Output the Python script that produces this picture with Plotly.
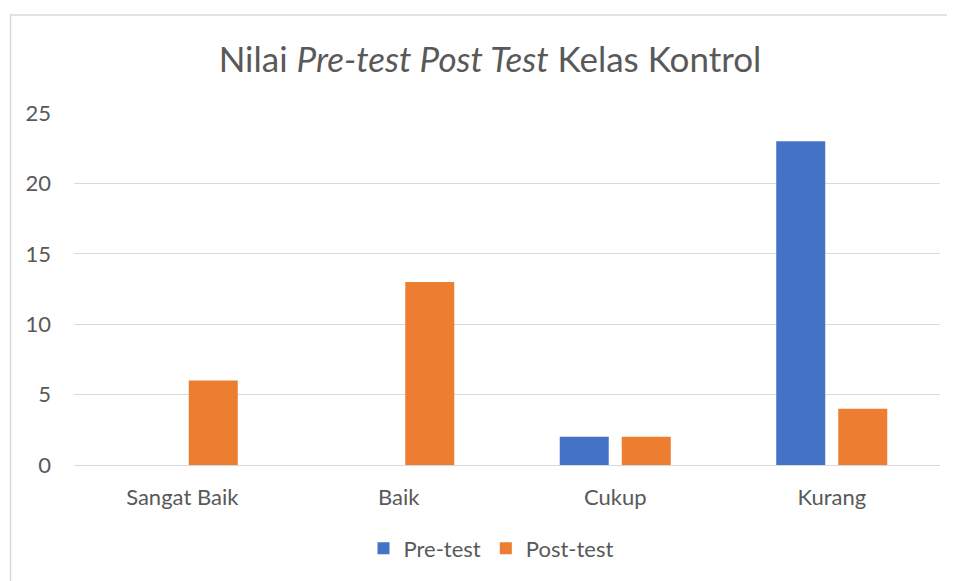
import plotly.graph_objects as go

categories = ["Sangat Baik", "Baik", "Cukup", "Kurang"]
pre_test = [0, 0, 2, 23]
post_test = [6, 13, 2, 4]
y_ticks = [0, 5, 10, 15, 20, 25]

FONT = "Lato, 'Open Sans', sans-serif"
GRAY = "#595959"

# page is shown with an 8px offset; work in reference pixel coords minus offset
O = 8
W, H = 955 - O, 581 - O
L = 74 - O
T = 113 - O
R = W - (940 - O)
B = H - (467 - O)
pw, ph = W - L - R, H - T - B

def px(xr):
    return ((xr - O) - L) / pw

def py(yr):
    return (H - B - (yr - O)) / ph

fig = go.Figure()
fig.add_trace(go.Bar(name="Pre-test", x=categories, y=pre_test,
                     marker=dict(color="#4472C4", line=dict(width=0))))
fig.add_trace(go.Bar(name="Post-test", x=categories, y=post_test,
                     marker=dict(color="#ED7D31", line=dict(width=0))))

fig.update_layout(
    width=W, height=H,
    margin=dict(l=L, r=R, t=T, b=B),
    paper_bgcolor="white", plot_bgcolor="white",
    barmode="group", bargap=0.427, bargroupgap=0.21,
    font=dict(family=FONT, color=GRAY, size=22),
    title=dict(text="Nilai <i>Pre-test Post Test</i> Kelas Kontrol",
               x=(490 - O) / W, xanchor="center", xref="container",
               y=1 - (60 - O) / H, yanchor="middle", yref="container",
               font=dict(family=FONT, size=35, color=GRAY)),
    showlegend=True,
    legend=dict(orientation="h", x=px(491), xanchor="center",
                y=py(551), yanchor="middle",
                font=dict(size=22, color=GRAY), itemwidth=30),
    xaxis=dict(showgrid=False, showline=False, ticks="",
               tickfont=dict(size=22, color=GRAY), ticklabelstandoff=17),
    yaxis=dict(range=[0, 25], tickvals=y_ticks, showgrid=True, gridcolor="#d9d9d9",
               gridwidth=1, zeroline=True, zerolinecolor="#d9d9d9", zerolinewidth=1,
               showline=False, ticks="", tickfont=dict(size=22, color=GRAY),
               ticklabelstandoff=22),
    shapes=[dict(type="rect", xref="paper", yref="paper",
                 x0=px(10.5), x1=px(1100),
                 y0=py(800), y1=py(14.5),
                 line=dict(color="#d9d9d9", width=1.5), layer="below")],
)

fig.write_html("out.html")
